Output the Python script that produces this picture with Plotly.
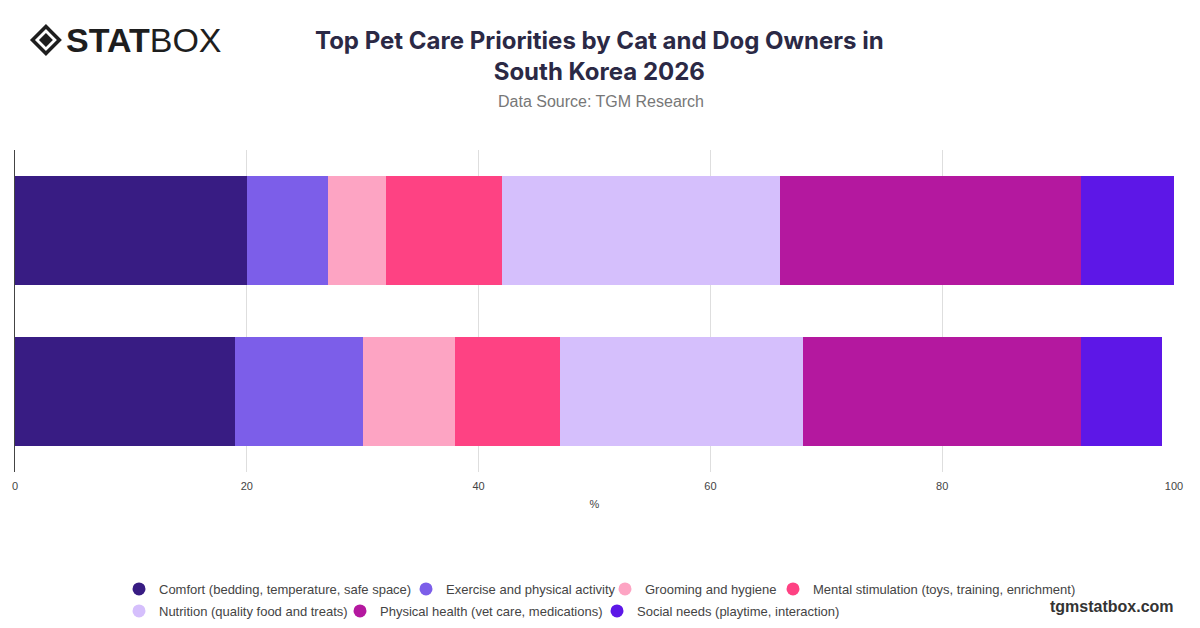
import plotly.graph_objects as go

# owner groups (bottom bar first, as plotly draws categories upward)
groups = ["Dog owners", "Cat owners"]

priorities = [
    "Comfort (bedding, temperature, safe space)",
    "Exercise and physical activity",
    "Grooming and hygiene",
    "Mental stimulation (toys, training, enrichment)",
    "Nutrition (quality food and treats)",
    "Physical health (vet care, medications)",
    "Social needs (playtime, interaction)",
]

# share of owners in %, one list per priority: [dog, cat]
comfort = [19, 20]
exercise = [11, 7]
grooming = [8, 5]
mental = [9, 10]
nutrition = [21, 24]
physical = [24, 26]
social = [7, 8]

series = [comfort, exercise, grooming, mental, nutrition, physical, social]
colors = ["#381c83", "#7c5ee9", "#fda4c3", "#fe4283", "#d5bffc", "#b4189f", "#5d17e7"]

# each legend entry gets its own little legend so the spacing can follow the original
legend_x = [111, 398, 597, 765, 111, 332, 589]   # px from left of the figure
legend_y = [0.0629, 0.0629, 0.0629, 0.0629, 0.0274, 0.0274, 0.0274]

fig = go.Figure()

legends = {}
for i, (name, vals, col) in enumerate(zip(priorities, series, colors)):
    lg = "legend" if i == 0 else "legend%d" % (i + 1)
    fig.add_trace(go.Bar(
        y=groups, x=vals, orientation="h", name=name,
        marker=dict(color=col, line=dict(width=0)),
        showlegend=False,
        hovertemplate="%{x}%<extra>" + name + "</extra>",
    ))
    # dummy trace so the legend shows round markers
    fig.add_trace(go.Scatter(
        x=[None], y=[None], mode="markers", name=name, legend=lg,
        marker=dict(color=col, size=13, symbol="circle"),
    ))
    legends[lg] = dict(
        orientation="h", xref="container", yref="container",
        x=legend_x[i] / 1192, y=legend_y[i], xanchor="left", yanchor="middle",
        font=dict(size=13, color="#444444"), bgcolor="rgba(0,0,0,0)",
    )

# plot area is 1162 x 322 px, paper coords below are worked out from that
W, H = 1162, 322

fig.update_layout(
    width=1192, height=620,
    barmode="stack", bargap=0.317,
    plot_bgcolor="white", paper_bgcolor="white",
    margin=dict(l=4, r=26, t=142, b=156),
    font=dict(family="Liberation Sans, Arial, sans-serif", color="#555555"),
    xaxis=dict(
        range=[0, 100], dtick=20, showgrid=True, gridcolor="#dedede",
        zeroline=False, ticks="", tickfont=dict(size=11, color="#444444"),
        ticklabelstandoff=6,
        title=dict(text="%", font=dict(size=11, color="#444444"), standoff=9),
        fixedrange=True,
    ),
    yaxis=dict(
        showticklabels=False, showgrid=False, zeroline=False,
        showline=True, linecolor="#444444", linewidth=1, fixedrange=True,
    ),
    annotations=[
        dict(text="<b>Top Pet Care Priorities by Cat and Dog Owners in<br>South Korea 2026</b>",
             xref="paper", yref="paper", x=(590 - 4) / W, y=1 + (142 - 47.5) / H,
             xanchor="center", yanchor="middle", showarrow=False,
             font=dict(family="Inter, sans-serif", size=24, color="#2b2945")),
        dict(text="Data Source: TGM Research", xref="paper", yref="paper",
             x=(592 - 4) / W, y=1 + (142 - 93) / H, xanchor="center", yanchor="middle",
             showarrow=False, font=dict(size=16, color="#777777")),
        dict(text="<b>tgmstatbox.com</b>", xref="paper", yref="paper",
             x=(1168 - 4) / W, y=-(598 - 464) / H, xanchor="right", yanchor="middle",
             showarrow=False, font=dict(size=16, color="#333333")),
        dict(text="<b>STAT</b>BOX", xref="paper", yref="paper",
             x=(53 - 4) / W, y=1 + (142 - 32) / H, xanchor="left", yanchor="middle",
             showarrow=False, font=dict(family="Liberation Sans, sans-serif", size=34, color="#1e1e1e")),
    ],
)

# logo diamond: outer black, white ring, inner black (centre at 35, 32 px)
cx, cy = (35 - 4) / W, 1 + (142 - 32) / H
for half, fill in [(16, "#1e1e1e"), (11, "white"), (7, "#1e1e1e")]:
    dx, dy = half / W, half / H
    fig.add_shape(
        type="path", xref="paper", yref="paper",
        path="M %f,%f L %f,%f L %f,%f L %f,%f Z" % (
            cx - dx, cy, cx, cy + dy, cx + dx, cy, cx, cy - dy),
        fillcolor=fill, line=dict(width=0),
    )

fig.update_layout(**legends)

fig.write_html("out.html")
